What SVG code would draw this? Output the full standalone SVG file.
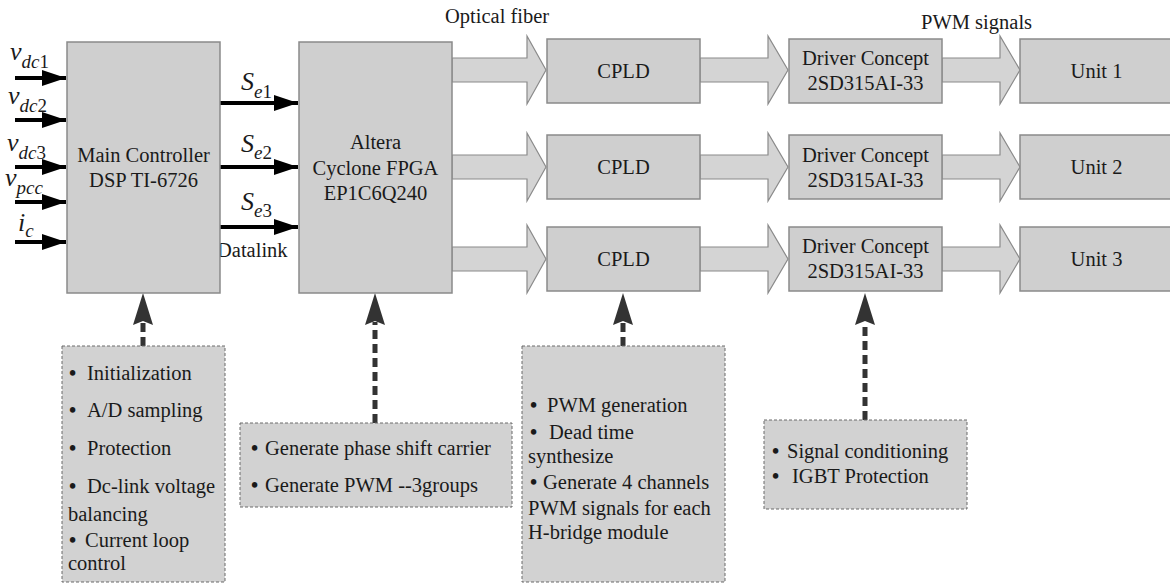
<svg xmlns="http://www.w3.org/2000/svg" width="1170" height="584" viewBox="0 0 1170 584">
<defs>
<style>
text{font-family:"Liberation Serif","Times New Roman",serif;fill:#1a1a1a;font-size:20.5px}
.c{text-anchor:middle}
.box{fill:#cfcfcf;stroke:#8a8a8a;stroke-width:1.5}
.desc{fill:#d2d2d2;stroke:#6a6a6a;stroke-width:1;stroke-dasharray:3 2}
.fat{fill:#d4d4d4;stroke:#8a8a8a;stroke-width:1.2}
.thin{stroke:#000;stroke-width:4;fill:none}
.dash{stroke:#333;stroke-width:5;stroke-dasharray:9 5;fill:none}
.it{font-style:italic}
.big{font-size:26px}
.sub{font-size:19px}
.b{font-weight:bold}
</style>
<marker id="ah" markerUnits="userSpaceOnUse" markerWidth="26" markerHeight="18" refX="24" refY="8" orient="auto">
<path d="M0,0 L24,8 L0,16 Z" fill="#000"/>
</marker>
</defs>
<rect width="1170" height="584" fill="#fff"/>

<g id="connectors">
<line class="thin" x1="15" y1="78" x2="66" y2="78" marker-end="url(#ah)"/>
<line class="thin" x1="15" y1="120" x2="66" y2="120" marker-end="url(#ah)"/>
<line class="thin" x1="15" y1="167" x2="66" y2="167" marker-end="url(#ah)"/>
<line class="thin" x1="15" y1="202" x2="66" y2="202" marker-end="url(#ah)"/>
<line class="thin" x1="15" y1="242" x2="66" y2="242" marker-end="url(#ah)"/>
<line class="thin" x1="220" y1="103" x2="298" y2="103" marker-end="url(#ah)"/>
<line class="thin" x1="220" y1="167" x2="298" y2="167" marker-end="url(#ah)"/>
<line class="thin" x1="220" y1="227" x2="298" y2="227" marker-end="url(#ah)"/>
<path class="fat" d="M452,58 H527 V36 L546,70 L527,104 V82 H452 Z"/>
<path class="fat" d="M452,155 H527 V133 L546,167 L527,201 V179 H452 Z"/>
<path class="fat" d="M452,247 H527 V225 L546,259 L527,293 V271 H452 Z"/>
<path class="fat" d="M700,58 H768 V36 L788,70 L768,104 V82 H700 Z"/>
<path class="fat" d="M700,155 H768 V133 L788,167 L768,201 V179 H700 Z"/>
<path class="fat" d="M700,247 H768 V225 L788,259 L768,293 V271 H700 Z"/>
<path class="fat" d="M942,58 H1000 V36 L1020,70 L1000,104 V82 H942 Z"/>
<path class="fat" d="M942,155 H1000 V133 L1020,167 L1000,201 V179 H942 Z"/>
<path class="fat" d="M942,247 H1000 V225 L1020,259 L1000,293 V271 H942 Z"/>
<line class="dash" x1="143" y1="346" x2="143" y2="322"/>
<path d="M143,293 L153,325 L143,321 L133,325 Z" fill="#333"/>
<line class="dash" x1="375" y1="423" x2="375" y2="322"/>
<path d="M375,293 L385,325 L375,321 L365,325 Z" fill="#333"/>
<line class="dash" x1="623" y1="346" x2="623" y2="322"/>
<path d="M623,293 L633,325 L623,321 L613,325 Z" fill="#333"/>
<line class="dash" x1="865" y1="420" x2="865" y2="322"/>
<path d="M865,293 L875,325 L865,321 L855,325 Z" fill="#333"/>
</g>

<g id="input-labels">
<text class="it" x="10" y="60"><tspan class="big">v</tspan><tspan class="sub" dy="8">dc</tspan><tspan class="sub" font-style="normal">1</tspan></text>
<text class="it" x="8" y="104"><tspan class="big">v</tspan><tspan class="sub" dy="8">dc</tspan><tspan class="sub" font-style="normal">2</tspan></text>
<text class="it" x="7" y="151"><tspan class="big">v</tspan><tspan class="sub" dy="8">dc</tspan><tspan class="sub" font-style="normal">3</tspan></text>
<text class="it" x="5" y="186"><tspan class="big">v</tspan><tspan class="sub" dy="8">pcc</tspan></text>
<text class="it" x="18" y="231"><tspan class="big">i</tspan><tspan class="sub" dy="6">c</tspan></text>
</g>

<g id="se-labels">
<text class="it" x="241" y="90"><tspan class="big">S</tspan><tspan class="sub" dy="8">e</tspan><tspan class="sub" font-style="normal">1</tspan></text>
<text class="it" x="241" y="152"><tspan class="big">S</tspan><tspan class="sub" dy="7">e</tspan><tspan class="sub" font-style="normal">2</tspan></text>
<text class="it" x="241" y="210"><tspan class="big">S</tspan><tspan class="sub" dy="7">e</tspan><tspan class="sub" font-style="normal">3</tspan></text>
<text x="217" y="257">Datalink</text>
<text x="445" y="23">Optical fiber</text>
<text x="921" y="29">PWM signals</text>
</g>

<g id="main-controller">
<rect class="box" x="67" y="42" width="153" height="251"/>
<text class="c" x="143.5" y="162">Main Controller</text>
<text class="c" x="143.5" y="187">DSP TI-6726</text>
</g>

<g id="fpga">
<rect class="box" x="299" y="42" width="153" height="251"/>
<text class="c" x="375.5" y="149">Altera</text>
<text class="c" x="375.5" y="175">Cyclone FPGA</text>
<text class="c" x="375.5" y="200">EP1C6Q240</text>
</g>

<g id="cpld1"><rect class="box" x="547" y="39" width="153" height="64"/><text class="c" x="623.5" y="78">CPLD</text></g>
<g id="cpld2"><rect class="box" x="547" y="135" width="153" height="64"/><text class="c" x="623.5" y="174">CPLD</text></g>
<g id="cpld3"><rect class="box" x="547" y="227" width="153" height="64"/><text class="c" x="623.5" y="266">CPLD</text></g>

<g id="driver1"><rect class="box" x="789" y="39" width="153" height="64"/><text class="c" x="865.5" y="65">Driver Concept</text><text class="c" x="865.5" y="90">2SD315AI-33</text></g>
<g id="driver2"><rect class="box" x="789" y="135" width="153" height="64"/><text class="c" x="865.5" y="162">Driver Concept</text><text class="c" x="865.5" y="187">2SD315AI-33</text></g>
<g id="driver3"><rect class="box" x="789" y="227" width="153" height="64"/><text class="c" x="865.5" y="253">Driver Concept</text><text class="c" x="865.5" y="278">2SD315AI-33</text></g>

<g id="unit1"><rect class="box" x="1020" y="39" width="160" height="64"/><text class="c" x="1096.5" y="78">Unit 1</text></g>
<g id="unit2"><rect class="box" x="1020" y="135" width="160" height="64"/><text class="c" x="1096.5" y="174">Unit 2</text></g>
<g id="unit3"><rect class="box" x="1020" y="227" width="160" height="64"/><text class="c" x="1096.5" y="266">Unit 3</text></g>

<g id="desc-main">
<rect class="desc" x="62" y="346" width="163" height="236"/>
<text y="380"><tspan class="b" x="69">•</tspan><tspan x="87">Initialization</tspan></text>
<text y="417"><tspan class="b" x="69">•</tspan><tspan x="87">A/D sampling</tspan></text>
<text y="455"><tspan class="b" x="69">•</tspan><tspan x="87">Protection</tspan></text>
<text y="493"><tspan class="b" x="69">•</tspan><tspan x="87">Dc-link voltage</tspan></text>
<text x="68" y="521">balancing</text>
<text y="547"><tspan class="b" x="69">•</tspan><tspan x="85">Current loop</tspan></text>
<text x="68" y="570">control</text>
</g>

<g id="desc-fpga">
<rect class="desc" x="240" y="423" width="272" height="84"/>
<text y="455"><tspan class="b" x="251">•</tspan><tspan x="265">Generate phase shift carrier</tspan></text>
<text y="492"><tspan class="b" x="251">•</tspan><tspan x="265">Generate PWM --3groups</tspan></text>
</g>

<g id="desc-cpld">
<rect class="desc" x="522" y="346" width="203" height="236"/>
<text y="412"><tspan class="b" x="530">•</tspan><tspan x="547">PWM generation</tspan></text>
<text y="439"><tspan class="b" x="530">•</tspan><tspan x="549">Dead time</tspan></text>
<text x="528" y="463">synthesize</text>
<text y="489"><tspan class="b" x="530">•</tspan><tspan x="543">Generate 4 channels</tspan></text>
<text x="528" y="515">PWM signals for each</text>
<text x="528" y="539">H-bridge module</text>
</g>

<g id="desc-driver">
<rect class="desc" x="764" y="420" width="203" height="89"/>
<text y="458"><tspan class="b" x="772">•</tspan><tspan x="787">Signal conditioning</tspan></text>
<text y="483"><tspan class="b" x="772">•</tspan><tspan x="792">IGBT Protection</tspan></text>
</g>
</svg>
